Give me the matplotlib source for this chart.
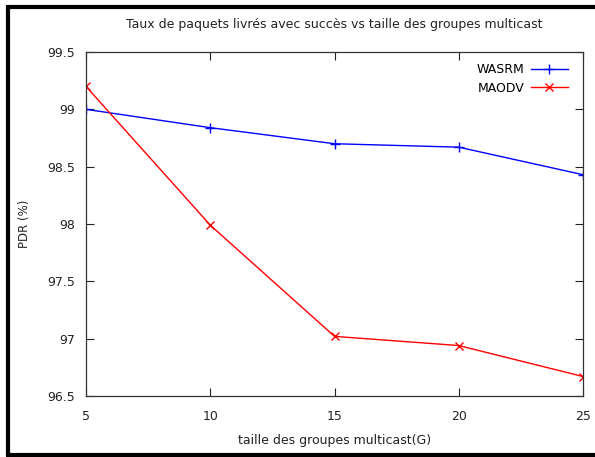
import matplotlib
matplotlib.use("Agg")
import matplotlib.pyplot as plt
from matplotlib.lines import Line2D

group_sizes = [5, 10, 15, 20, 25]
wasrm_pdr = [99.0, 98.84, 98.70, 98.67, 98.43]
maodv_pdr = [99.2, 97.99, 97.02, 96.94, 96.67]
y_ticks = [96.5, 97, 97.5, 98, 98.5, 99, 99.5]
y_tick_labels = ["96.5", "97", "97.5", "98", "98.5", "99", "99.5"]

plt.rcParams["font.family"] = ["DejaVu Sans"]

W, H = 595, 457
fig = plt.figure(figsize=(W / 100, H / 100), dpi=100)
ax = fig.add_axes([86 / W, 1 - 396 / H, (583 - 86) / W, (396 - 52) / H])

ax.plot(group_sizes, wasrm_pdr, color="#0000ff", lw=1.0, marker="+",
        ms=7, mew=1.0, label="WASRM")
ax.plot(group_sizes, maodv_pdr, color="#ff0000", lw=1.0, marker="x",
        ms=5.5, mew=1.0, label="MAODV")

ax.set_xlim(5, 25)
ax.set_ylim(96.5, 99.5)
ax.set_xticks(group_sizes)
ax.set_yticks(y_ticks)
ax.set_yticklabels(y_tick_labels)
ax.tick_params(direction="in", length=6, width=0.8, top=True, right=True,
               labelsize=9, colors="#222222")
ax.tick_params(axis="x", pad=10)
ax.tick_params(axis="y", pad=8)
for s in ax.spines.values():
    s.set_linewidth(0.9)
    s.set_color("#333333")

ax.set_title("Taux de paquets livrés avec succès vs taille des groupes multicast",
             fontsize=9, color="#222222", pad=17)
ax.set_xlabel("taille des groupes multicast(G)", fontsize=9, color="#222222")
ax.xaxis.set_label_coords((335 - 86) / 497, (396 - 434) / 344)
ax.set_ylabel("PDR (%)", fontsize=8.5, color="#222222")
ax.yaxis.set_label_coords((31 - 86) / 497, 0.5)

leg = ax.legend(loc="upper right", frameon=False, fontsize=9,
                markerfirst=False, handlelength=3.0, handletextpad=0.5,
                borderpad=0, borderaxespad=0, labelspacing=0.45,
                bbox_to_anchor=((568 - 86) / 497, (396 - 63) / 344))

# thick black frame around the figure (top, left, bottom)
frame_kw = dict(color="black", lw=3.0, transform=fig.transFigure,
                solid_capstyle="butt")
fig.add_artist(Line2D([7.5 / W, 1.0], [1 - 6.5 / H] * 2, **frame_kw))
fig.add_artist(Line2D([7.5 / W] * 2, [1 - 5 / H, 1 - 455.5 / H], **frame_kw))
fig.add_artist(Line2D([6 / W, 1.0], [1 - 455 / H] * 2, **frame_kw))

fig.savefig("out.png", dpi=100)
